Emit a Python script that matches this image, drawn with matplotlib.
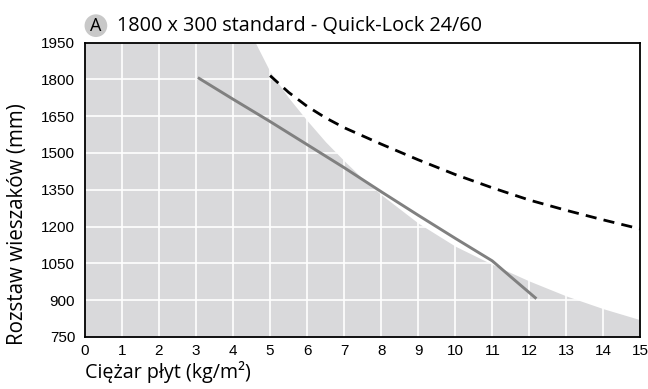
import matplotlib
matplotlib.use('Agg')
import matplotlib.pyplot as plt
from matplotlib import font_manager

# data
x_ticks = list(range(0, 16))
y_ticks = [750, 900, 1050, 1200, 1350, 1500, 1650, 1800, 1950]

# gray area (allowed region) upper boundary
area_x = [0, 4.6, 5, 5.5, 6, 6.5, 7, 7.5, 8, 9, 10, 11, 12, 13, 14, 15]
area_y = [1950, 1950, 1831, 1725, 1632, 1545, 1468, 1395, 1330, 1214, 1120, 1046, 978, 917, 865, 820]

# solid gray curve
line_x = [3.05, 4, 5, 6, 7, 8, 9, 10, 11, 11.5, 12.19]
line_y = [1807, 1719, 1628, 1534, 1440, 1342, 1246, 1152, 1060, 995, 906]

# dashed black curve
dash_x = [5, 5.5, 6, 6.5, 7, 8, 9, 10, 11, 12, 13, 14, 15]
dash_y = [1815, 1747, 1690, 1643, 1603, 1536, 1472, 1412, 1358, 1308, 1266, 1227, 1190]

title = "1800 x 300 standard - Quick-Lock 24/60"
xlabel = "Ciężar płyt (kg/m²)"
ylabel = "Rozstaw wieszaków (mm)"

names = {f.name for f in font_manager.fontManager.ttflist}
tick_font = 'Liberation Sans Narrow' if 'Liberation Sans Narrow' in names else 'Liberation Sans'
tick_size = 12 if tick_font == 'Liberation Sans Narrow' else 11
label_font = ['Open Sans', 'DejaVu Sans']

fig = plt.figure(figsize=(6.48, 3.89), dpi=100)
ax = fig.add_axes([0.131, 0.1337, 0.8574, 0.757])

ax.fill_between(area_x, 750, area_y, color='#d9d9db', lw=0, zorder=1)
for xv in x_ticks[1:-1]:
    ax.axvline(xv, color='white', lw=1.2, zorder=2)
for yv in y_ticks[1:-1]:
    ax.axhline(yv, color='white', lw=1.2, zorder=2)

ax.plot(line_x, line_y, color='#808080', lw=2.1, solid_capstyle='butt',
        solid_joinstyle='round', zorder=3)
ax.plot(dash_x, dash_y, color='black', lw=2.0, dashes=(4, 2.6), zorder=3)

ax.set_xlim(0, 15)
ax.set_ylim(750, 1950)
ax.set_xticks(x_ticks)
ax.set_yticks(y_ticks)
ax.tick_params(length=0, labelsize=tick_size)
ax.tick_params(axis='y', pad=7)
ax.tick_params(axis='x', pad=5)
for lab in ax.get_xticklabels() + ax.get_yticklabels():
    lab.set_family(tick_font)
for s in ax.spines.values():
    s.set_linewidth(1.3)
    s.set_zorder(4)

fig.text(0.131, 0.028, xlabel, family=label_font, fontsize=14.2, ha='left', va='baseline')
fig.text(0.027, 1 - 224 / 389, ylabel, family=label_font, fontsize=14.8,
         rotation=90, ha='center', va='center')

fig.text(0.148, 0.934, "A", family=label_font, fontsize=13, ha='center', va='center',
         bbox=dict(boxstyle='circle,pad=0.13', fc='#c8c8c8', ec='none'))
fig.text(0.181, 0.934, title, family=label_font, fontsize=14.3, ha='left', va='center')

fig.savefig('out.png', dpi=100)
